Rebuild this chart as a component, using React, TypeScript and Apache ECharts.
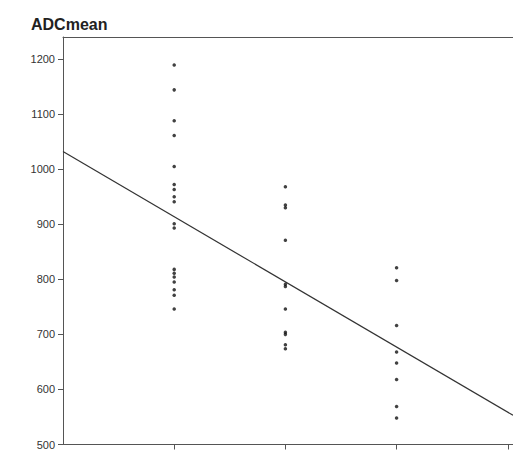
import React, { useEffect, useRef } from "react";
import * as echarts from "echarts";

const title = "ADCmean";
const groupX = [1, 2, 3];
const group1 = [1189, 1144, 1088, 1061, 1005, 972, 963, 950, 941, 901, 893, 818, 811, 804, 795, 781, 771, 746];
const group2 = [968, 935, 930, 871, 791, 787, 746, 704, 700, 681, 674];
const group3 = [821, 798, 716, 668, 648, 618, 569, 548];
const yTicks = [500, 600, 700, 800, 900, 1000, 1100, 1200];
const xTicks = [1, 2, 3, 4];
const fitLine: [number, number][] = [
  [0, 1032],
  [4.047, 553],
];

export default function App() {
  const ref = useRef<HTMLDivElement>(null);
  useEffect(() => {
    if (!ref.current) return;
    const chart = echarts.init(ref.current, undefined, { renderer: "svg" });
    const groups = [group1, group2, group3];
    const points: [number, number][] = [];
    groups.forEach((g, i) => g.forEach((v) => points.push([groupX[i], v])));
    const axisColor = "#555";
    chart.setOption({
      animation: false,
      backgroundColor: "#ffffff",
      title: {
        text: title,
        left: 26,
        top: 11,
        textStyle: {
          fontFamily: "Liberation Sans, Arial, sans-serif",
          fontSize: 16,
          fontWeight: "bold",
          color: "#222",
        },
      },
      grid: {
        left: 63,
        top: 37,
        right: 0,
        bottom: 4,
        show: false,
        containLabel: false,
      },
      xAxis: [
        {
          type: "value",
          min: 0,
          max: 4.047,
          interval: 1,
          axisLine: { show: true, lineStyle: { color: axisColor, width: 1 } },
          axisTick: { show: true, length: 5, customValues: xTicks, lineStyle: { color: axisColor } },
          axisLabel: { show: false },
          splitLine: { show: false },
        },
        {
          type: "value",
          position: "top",
          min: 0,
          max: 4.047,
          axisLine: { show: true, onZero: false, lineStyle: { color: axisColor, width: 1 } },
          axisTick: { show: false },
          axisLabel: { show: false },
          splitLine: { show: false },
        },
      ],
      yAxis: {
        type: "value",
        min: 500,
        max: 1240,
        interval: 100,
        axisLine: { show: true, lineStyle: { color: axisColor, width: 1 } },
        axisTick: { show: true, length: 5, customValues: yTicks, lineStyle: { color: axisColor } },
        axisLabel: {
          customValues: yTicks,
          formatter: (v: number) => String(v),
          margin: 8,
          fontFamily: "Liberation Sans, Arial, sans-serif",
          fontSize: 11,
          color: "#333",
        },
        splitLine: { show: false },
      },
      series: [
        {
          type: "line",
          data: fitLine,
          symbol: "none",
          lineStyle: { color: "#333", width: 1.2 },
          z: 2,
        },
        {
          type: "scatter",
          data: points,
          symbol: "circle",
          symbolSize: 3.5,
          itemStyle: { color: "#111" },
          z: 3,
        },
      ],
    });
    return () => chart.dispose();
  }, []);
  return (
    <div
      ref={ref}
      style={{ position: "fixed", left: 0, top: 0, width: 513, height: 450 }}
    />
  );
}
